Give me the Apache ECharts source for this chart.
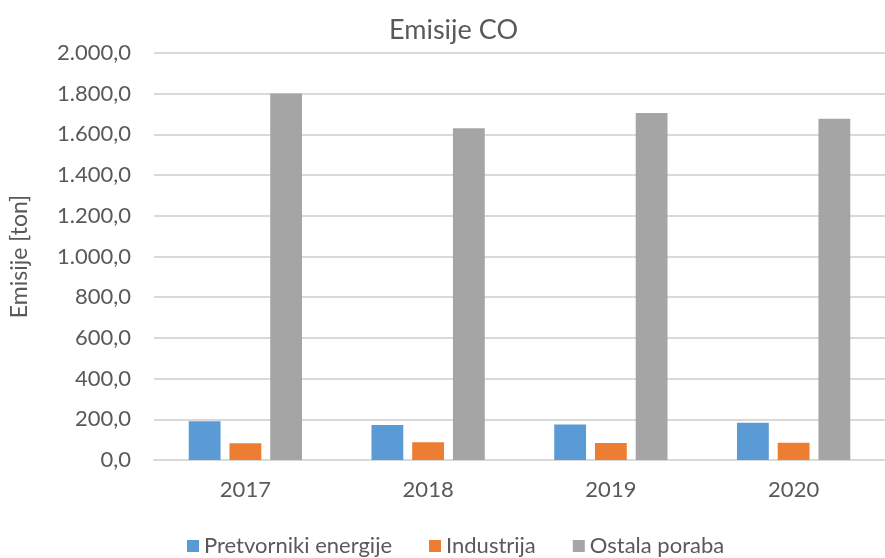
<!DOCTYPE html>
<html>
<head>
<meta charset="utf-8">
<script src="https://cdn.jsdelivr.net/npm/echarts@6/dist/echarts.min.js"></script>
<style>
  html, body { margin: 0; padding: 0; background: #fff; }
  #chart { width: 885px; height: 558px; }
</style>
</head>
<body>
<div id="chart"></div>
<script>
// CO emissions by sector, tonnes per year
const years = ['2017', '2018', '2019', '2020'];
const pretvorniki = [191, 172, 175, 183];
const industrija = [82, 87, 84, 85];
const ostala = [1801, 1630, 1705, 1677];

const seriesNames = ['Pretvorniki energije', 'Industrija', 'Ostala poraba'];
const seriesColors = ['#5B9BD5', '#ED7D31', '#A5A5A5'];

const textColor = '#595959';
const fontFamily = 'Lato, "Open Sans", sans-serif';

// 1800.0 -> "1.800,0"
function fmt(v) {
  const parts = Number(v).toFixed(1).split('.');
  const intPart = parts[0].replace(/\B(?=(\d{3})+(?!\d))/g, '.');
  return intPart + ',' + parts[1];
}

const chart = echarts.init(document.getElementById('chart'));
const dataSets = [pretvorniki, industrija, ostala];

chart.setOption({
  animation: false,
  textStyle: { fontFamily: fontFamily },
  title: {
    text: 'Emisije CO',
    left: 384,
    top: 12,
    textStyle: { color: textColor, fontSize: 27, fontWeight: 'normal', fontFamily: fontFamily }
  },
  legend: {
    data: seriesNames,
    top: 530,
    left: 182,
    icon: 'rect',
    itemWidth: 12,
    itemHeight: 12,
    itemGap: 37,
    textStyle: { color: textColor, fontSize: 22, fontFamily: fontFamily }
  },
  grid: { left: 154, top: 53, width: 740, height: 407, containLabel: false },
  xAxis: {
    type: 'category',
    data: years,
    axisLine: { lineStyle: { color: '#D9D9D9', width: 2 } },
    axisTick: { show: false },
    axisLabel: { color: textColor, fontSize: 22, margin: 19, fontFamily: fontFamily }
  },
  yAxis: {
    type: 'value',
    min: 0,
    max: 2000,
    interval: 200,
    name: 'Emisije [ton]',
    nameLocation: 'middle',
    nameGap: 123,
    nameTextStyle: { color: textColor, fontSize: 23, fontFamily: fontFamily },
    axisLine: { show: false },
    axisTick: { show: false },
    axisLabel: { color: textColor, fontSize: 22, margin: 23, formatter: fmt, fontFamily: fontFamily },
    splitLine: { lineStyle: { color: '#D9D9D9', width: 2 } }
  },
  series: seriesNames.map((name, i) => ({
    name: name,
    type: 'bar',
    data: dataSets[i],
    barGap: '28%',
    barCategoryGap: '38%',
    itemStyle: { color: seriesColors[i] }
  }))
});
</script>
</body>
</html>
